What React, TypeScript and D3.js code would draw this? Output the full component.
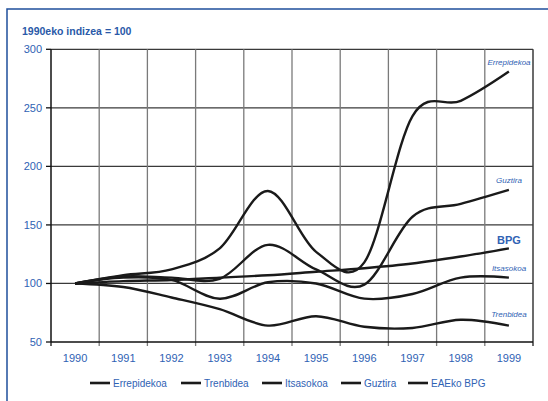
import React, { useEffect, useRef } from 'react';
import * as d3 from 'd3';

// index values, 1990 = 100
const years = ['1990', '1991', '1992', '1993', '1994', '1995', '1996', '1997', '1998', '1999'];
const errepidekoa = [100, 107, 112, 130, 179, 127, 118, 243, 256, 281];
const trenbidea = [100, 97, 88, 78, 64, 72, 63, 62, 69, 64];
const itsasokoa = [100, 105, 103, 87, 101, 100, 87, 91, 105, 105];
const guztira = [100, 106, 105, 104, 133, 112, 99, 157, 168, 180];
const bpg = [100, 102, 103, 105, 107, 110, 113, 117, 123, 130];
const yTicks = [50, 100, 150, 200, 250, 300];
const legendNames = ['Errepidekoa', 'Trenbidea', 'Itsasokoa', 'Guztira', 'EAEko BPG'];

const BLUE = '#2f62b4';
const FONT = '"Liberation Sans", Arial, sans-serif';

const App: React.FC = () => {
  const svgRef = useRef<SVGSVGElement | null>(null);

  useEffect(() => {
    if (!svgRef.current) return;
    const width = 548;
    const height = 401;
    const margin = { top: 49.3, right: 15, bottom: 59, left: 51 };

    const svg = d3.select(svgRef.current)
      .attr('width', width)
      .attr('height', height)
      .attr('viewBox', `0 0 ${width} ${height}`);
    svg.selectAll('*').remove();

    svg.append('rect').attr('width', width).attr('height', height).attr('fill', '#fff');

    // outer blue frame (runs off the page right and bottom)
    svg.append('rect')
      .attr('x', 7).attr('y', 9)
      .attr('width', 700).attr('height', 600)
      .attr('fill', 'none')
      .attr('stroke', '#1f4f9c')
      .attr('stroke-width', 1.5);

    const x = d3.scaleBand<string>()
      .domain(years)
      .range([margin.left, width - margin.right])
      .padding(0);

    const y = d3.scaleLinear()
      .domain([50, 300])
      .range([height - margin.bottom, margin.top]);

    const cx = (yr: string) => x(yr)! + x.bandwidth() / 2;
    const x0 = margin.left;
    const x1 = width - margin.right;
    const y0 = y(50);
    const y1 = y(300);

    // horizontal grid
    svg.append('g').selectAll('line')
      .data(yTicks.slice(1))
      .join('line')
      .attr('x1', x0).attr('x2', x1)
      .attr('y1', d => y(d)).attr('y2', d => y(d))
      .attr('stroke', '#3a3a3a')
      .attr('stroke-width', 1.3);

    // vertical grid at band edges
    svg.append('g').selectAll('line')
      .data(years.slice(1))
      .join('line')
      .attr('x1', d => x(d)!).attr('x2', d => x(d)!)
      .attr('y1', y1).attr('y2', y0 + 4)
      .attr('stroke', '#7a7a7a')
      .attr('stroke-width', 1.3);

    // right border
    svg.append('line')
      .attr('x1', x1).attr('x2', x1).attr('y1', y1).attr('y2', y0 + 4)
      .attr('stroke', '#3a3a3a').attr('stroke-width', 1.5);

    // axes
    svg.append('line')
      .attr('x1', x0).attr('x2', x0).attr('y1', y1).attr('y2', y0)
      .attr('stroke', '#111').attr('stroke-width', 1.5);
    svg.append('line')
      .attr('x1', x0).attr('x2', x1).attr('y1', y0).attr('y2', y0)
      .attr('stroke', '#111').attr('stroke-width', 1.5);
    svg.append('line')
      .attr('x1', x0).attr('x2', x0).attr('y1', y0).attr('y2', y0 + 4)
      .attr('stroke', '#111').attr('stroke-width', 1.3);

    // y ticks + labels
    const yg = svg.append('g');
    yg.selectAll('line')
      .data(yTicks)
      .join('line')
      .attr('x1', x0 - 5).attr('x2', x0)
      .attr('y1', d => y(d)).attr('y2', d => y(d))
      .attr('stroke', '#111').attr('stroke-width', 1.3);
    yg.selectAll('text')
      .data(yTicks)
      .join('text')
      .attr('x', 42)
      .attr('y', d => y(d) + 4)
      .attr('text-anchor', 'end')
      .attr('font-family', FONT)
      .attr('font-size', 11)
      .attr('fill', BLUE)
      .text(d => d);

    // x labels
    svg.append('g').selectAll('text')
      .data(years)
      .join('text')
      .attr('x', d => cx(d))
      .attr('y', 362)
      .attr('text-anchor', 'middle')
      .attr('font-family', FONT)
      .attr('font-size', 11)
      .attr('fill', BLUE)
      .text(d => d);

    // title
    svg.append('text')
      .attr('x', 22).attr('y', 35)
      .attr('font-family', FONT)
      .attr('font-size', 10.5)
      .attr('font-weight', 'bold')
      .attr('fill', '#2a59a8')
      .text('1990eko indizea = 100');

    // series
    const line = d3.line<number>()
      .x((_, i) => cx(years[i]))
      .y(d => y(d))
      .curve(d3.curveCardinal.tension(0));

    const series = [trenbidea, itsasokoa, bpg, guztira, errepidekoa];
    svg.append('g').selectAll('path')
      .data(series)
      .join('path')
      .attr('d', d => line(d))
      .attr('fill', 'none')
      .attr('stroke', '#1a1a1a')
      .attr('stroke-width', 2.4)
      .attr('stroke-linejoin', 'round');

    // end labels
    const endLabels = [
      { t: 'Errepidekoa', y: 65, bold: false },
      { t: 'Guztira', y: 183, bold: false },
      { t: 'BPG', y: 244, bold: true },
      { t: 'Itsasokoa', y: 271, bold: false },
      { t: 'Trenbidea', y: 317, bold: false },
    ];
    svg.append('g').selectAll('text')
      .data(endLabels)
      .join('text')
      .attr('x', 509)
      .attr('y', d => d.y)
      .attr('text-anchor', 'middle')
      .attr('font-family', FONT)
      .attr('font-size', d => (d.bold ? 11 : 8))
      .attr('font-weight', d => (d.bold ? 'bold' : 'normal'))
      .attr('font-style', d => (d.bold ? 'normal' : 'italic'))
      .attr('fill', BLUE)
      .text(d => d.t);

    // legend
    const legendX = [90, 181, 262, 341, 408];
    const lg = svg.append('g');
    legendNames.forEach((name, i) => {
      lg.append('line')
        .attr('x1', legendX[i]).attr('x2', legendX[i] + 20)
        .attr('y1', 383).attr('y2', 383)
        .attr('stroke', '#1a1a1a').attr('stroke-width', 2.6);
      lg.append('text')
        .attr('x', legendX[i] + 23).attr('y', 386.5)
        .attr('font-family', FONT)
        .attr('font-size', 10)
        .attr('fill', BLUE)
        .text(name);
    });
  }, []);

  return (
    <svg ref={svgRef} style={{ position: 'absolute', left: 0, top: 0, display: 'block' }}></svg>
  );
};

export default App;
